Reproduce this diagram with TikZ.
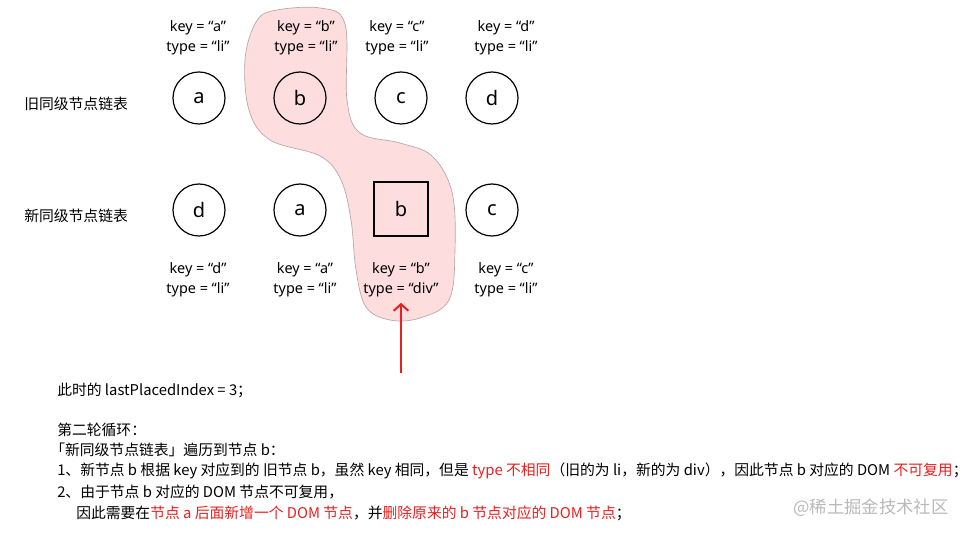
\documentclass[tikz,border=0pt]{standalone}
\usepackage{fontspec}
\setmainfont{Noto Sans CJK SC}
\newfontfamily\labelfont{Noto Sans}
\usetikzlibrary{arrows.meta}
\definecolor{blobpink}{RGB}{253,221,221}
\definecolor{blobedge}{RGB}{185,165,165}
\definecolor{notered}{RGB}{232,32,32}
\definecolor{markgray}{RGB}{185,185,185}
\newcommand{\hl}[1]{\textcolor{notered}{#1}}

\begin{document}
\begin{tikzpicture}[x=0.75pt,y=-0.75pt,
    every node/.style={font=\fontsize{11.1}{13}\selectfont},
    vnode/.style={draw,circle,minimum size=39pt,inner sep=0pt,line width=0.9pt,
      font=\labelfont\fontsize{15}{17}\selectfont},
    vbox/.style={draw,rectangle,minimum size=40.5pt,inner sep=0pt,line width=0.9pt,
      font=\labelfont\fontsize{15}{17}\selectfont},
    info/.style={align=center,inner sep=0pt,font=\labelfont\fontsize{10.8}{15}\selectfont},
    note/.style={anchor=west,inner sep=0pt}]
  \useasboundingbox (0,0) rectangle (971,534);
  % the moved node b
  \draw[blobedge,fill=blobpink,line width=0.5pt] plot[smooth cycle,tension=0.6] coordinates {
    (272,11) (320,8) (345,24) (347,100) (360,133) (400,143) (432,156) (452,192)
    (455,250) (449,300) (420,318) (390,320) (366,307) (356,270) (351,220)
    (341,180) (320,156) (270,140) (249,110) (245,60) (255,24)};
  \node[note] (oldrow) at (24,104) {旧同级节点链表};
  \node[note] (newrow) at (24,216) {新同级节点链表};
  \foreach \n/\x in {a/199,b/300,c/401,d/492}
    \node[vnode] (o\n) at (\x,98) {\n};
  \foreach \n/\x in {a/198,b/306,c/397,d/506}
    \node[info] (o\n info) at (\x,38) {key = “\n”\\type = “li”};
  \foreach \n/\x in {d/199,a/300,c/492}
    \node[vnode] (n\n) at (\x,210) {\n};
  \node[vbox] (nb) at (401,209) {b};
  \foreach \n/\x in {d/198,a/305,c/506}
    \node[info] (n\n info) at (\x,280) {key = “\n”\\type = “li”};
  \node[info] (nbinfo) at (401,280) {key = “b”\\type = “div”};
  \coordinate (ptr) at (401,373);
  \draw[notered,line width=1.5pt,-{Straight Barb[length=5pt,width=11pt]},shorten >=4pt]
    (ptr) -- (nbinfo.south);
  \node[note] (t0) at (57,390) {此时的 lastPlacedIndex = 3；};
  \node[note] (t1) at (57,430) {第二轮循环：};
  \node[note] (t2) at (50,450) {「新同级节点链表」遍历到节点 b：};
  \node[note] (t3) at (57,471) {1、新节点 b 根据 key 对应到的 旧节点 b，虽然 key 相同，但是 \hl{type 不相同}（旧的为 li，新的为 div），因此节点 b 对应的 DOM \hl{不可复用}；};
  \node[note] (t4) at (57,492) {2、由于节点 b 对应的 DOM 节点不可复用，};
  \node[note] (t5) at (76,513) {因此需要在\hl{节点 a 后面新增一个 DOM 节点}，并\hl{删除原来的 b 节点对应的 DOM 节点}；};
  \node[note,text=markgray,font=\fontsize{13}{15}\selectfont] (mark) at (793,508) {@稀土掘金技术社区};
\end{tikzpicture}
\end{document}
